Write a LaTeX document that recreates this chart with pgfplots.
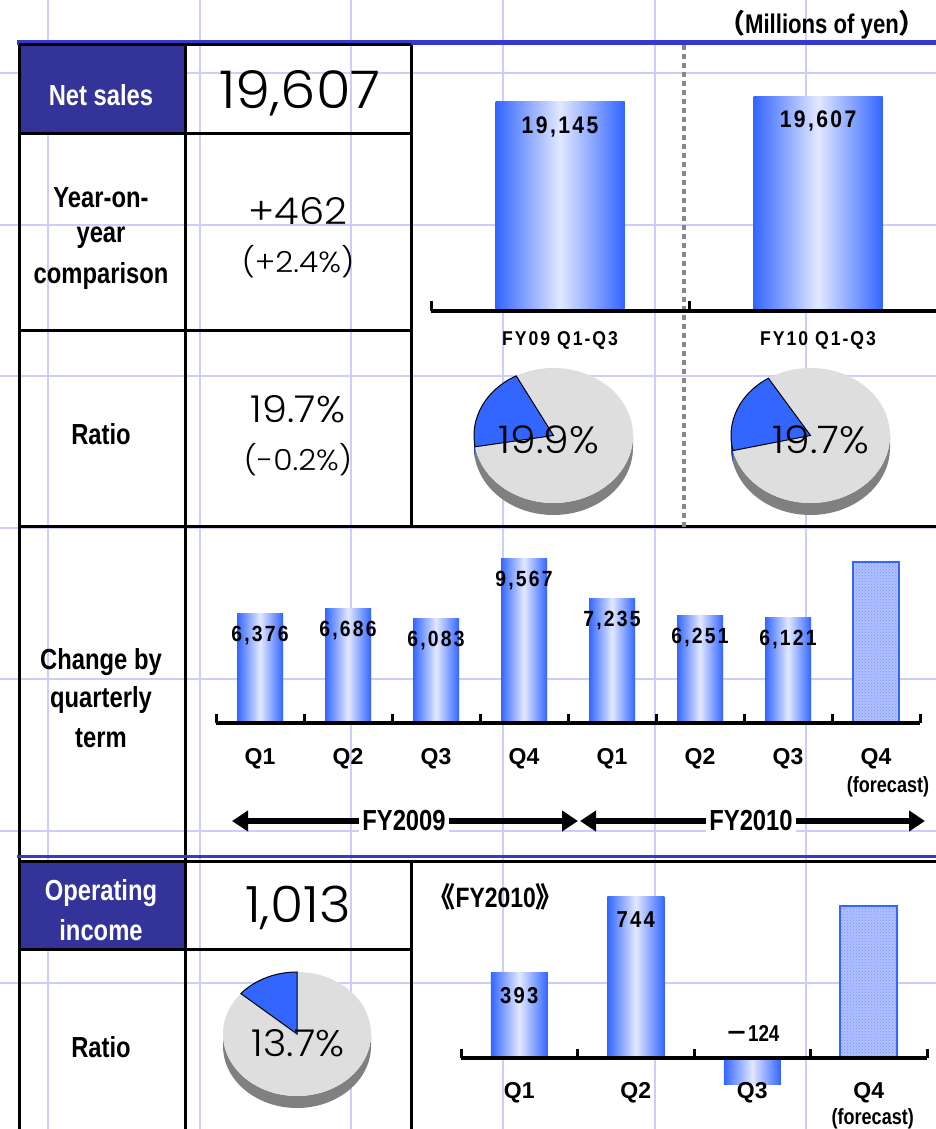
\documentclass[border=0pt]{standalone}
\usepackage{pgfplots}
\pgfplotsset{compat=1.18}
\usetikzlibrary{arrows.meta,patterns}
\usepackage{fontspec}
\setmainfont{Liberation Sans}
\newfontfamily\lab{Liberation Sans}[FakeStretch=0.82]
\newfontfamily\num{Liberation Sans}[FakeStretch=0.88,LetterSpace=10]
\newfontfamily\thin{Poppins Light}[FakeStretch=1.08]
\newfontfamily\cjk{Noto Sans CJK JP}

\definecolor{gridc}{HTML}{CCCCFF}
\definecolor{navy}{HTML}{333399}
\definecolor{topline}{HTML}{3838CC}
\definecolor{barblue}{HTML}{3366FF}
\definecolor{barlight}{HTML}{E2E8FF}
\definecolor{pieblue}{HTML}{3366FF}
\definecolor{sideblue}{HTML}{2244AA}
\definecolor{piegray}{HTML}{DEDEDE}
\definecolor{pieside}{HTML}{808080}
\definecolor{fcfill}{HTML}{AFC0FF}
\definecolor{fcdots}{HTML}{7C95FF}
\definecolor{dashc}{HTML}{888888}

\pgfplotsset{
  blank/.style={scale only axis, hide axis, clip=false},
  shbar/.style={ybar, bar shift=0pt, draw=none,
    left color=barblue, right color=barblue, middle color=barlight},
  fcbar/.style={ybar, bar shift=0pt, draw=barblue, line width=2pt, fill=fcfill,
    postaction={pattern=crosshatch dots, pattern color=fcdots}},
  vlab/.style 2 args={nodes near coords={\pgfmathprintnumber[fixed,precision=0,1000 sep={,},assume math mode=true]{\pgfplotspointmeta}},
    every node near coord/.append style={anchor=center, yshift=#1,
      font=\num\bfseries\fontsize{#2}{#2}\selectfont, text=black}},
}

% 3-D pie: centre x, centre y, x radius, y radius, depth, start angle, percent
\newcommand\pie[7]{%
  \fill[pieside] (#1-#3,#2) -- ++(0,-#5)
    arc[start angle=180,end angle=360,x radius=#3pt,y radius=#4pt] -- ++(0,#5)
    arc[start angle=0,end angle=-180,x radius=#3pt,y radius=#4pt] -- cycle;
  \fill[piegray] (#1,#2) ellipse[x radius=#3pt,y radius=#4pt];
  \pgfmathsetmacro\pend{#6+#7*3.6}%
  \ifdim\pend pt>180pt
    \fill[sideblue] (#1-#3,#2)
      arc[start angle=180,end angle=\pend,x radius=#3pt,y radius=#4pt] -- ++(0,-#5)
      arc[start angle=\pend,end angle=180,x radius=#3pt,y radius=#4pt] -- cycle;
  \fi
  \filldraw[fill=pieblue,draw=black,line width=1pt] (#1,#2) -- ++(#6:#3pt and #4pt)
    arc[start angle=#6,end angle=\pend,x radius=#3pt,y radius=#4pt] -- cycle;
}

\begin{document}
\begin{tikzpicture}[x=1pt,y=1pt]
\fill[white] (0,0) rectangle (936,1129);

% graph-paper background
\foreach \gx in {48,200,351,503,655,806} \draw[gridc,line width=2pt] (\gx,0) -- (\gx,1129);
\foreach \gy in {73,225,376,528,679,831,983} \draw[gridc,line width=2pt] (0,1129-\gy) -- (936,1129-\gy);

% header cells
\fill[navy] (19,1084) rectangle (185,995);
\fill[navy] (19,267) rectangle (185,180);

% table rules
\draw[topline,line width=5pt] (17,1086) -- (936,1086);
\draw[line width=3pt] (19,1084) -- (411,1084);
\draw[line width=3pt] (19,1084) -- (19,0);
\draw[line width=3pt] (185,1084) -- (185,0);
\draw[line width=3pt] (411,1084) -- (411,602);
\draw[line width=3pt] (411,269) -- (411,0);
\draw[line width=3pt] (19,995) -- (411,995);
\draw[line width=3pt] (19,798) -- (411,798);
\draw[line width=3pt] (19,602) -- (936,602);
\draw[topline,line width=3pt] (17,272) -- (936,272);
\draw[line width=3pt] (19,267) -- (936,267);
\draw[line width=3pt] (19,179) -- (411,179);
\draw[dashc,line width=4pt,dash pattern=on 5pt off 4pt] (684,1084) -- (684,602);

% unit note
\node[font=\lab\bfseries\fontsize{27}{27}\selectfont] at (822,1104) {\cjk（\lab Millions of yen\cjk）};

% left column labels
\begin{scope}[every node/.style={font=\lab\bfseries\fontsize{29}{29}\selectfont}]
\node[white] at (101,1034) {Net sales};
\node at (101,931) {Year-on-};
\node at (101,891) {year};
\node at (101,853) {comparison};
\node at (101,695) {Ratio};
\node at (101,467) {Change by};
\node at (101,429) {quarterly};
\node at (101,391) {term};
\node[white] at (101,236) {Operating};
\node[white] at (101,199) {income};
\node at (101,82) {Ratio};
\end{scope}

% figures column
\node[font=\thin\fontsize{52}{52}\selectfont] at (300,1036) {19,607};
\node[font=\thin\fontsize{37}{37}\selectfont] at (298,918) {+462};
\node[font=\thin\fontsize{29}{29}\selectfont] at (298,867) {(+2.4\%)};
\node[font=\thin\fontsize{37}{37}\selectfont] at (298,720) {19.7\%};
\node[font=\thin\fontsize{29}{29}\selectfont] at (298,669) {(-0.2\%)};
\node[font=\thin\fontsize{50}{50}\selectfont] at (298,221) {1,013};

% net sales, first three quarters
\begin{axis}[blank, at={(431pt,818pt)}, anchor=south west, width=505pt, height=250pt,
  xmin=-0.5, xmax=1.457, ymin=0, ymax=22850]
\addplot[shbar, bar width=129pt, vlab={-25pt}{24}] coordinates {(0,19145)};
\addplot[shbar, bar width=129pt, vlab={-25pt}{24}] coordinates {(1,19607)};
\draw[line width=4pt] (axis cs:-0.5,0) -- (axis cs:1.457,0);
\draw[line width=3pt] (axis cs:-0.5,0) -- ++(0pt,10pt);
\draw[line width=3pt] (axis cs:0.5,0) -- ++(0pt,10pt);
\node[font=\num\bfseries\fontsize{20}{20}\selectfont] at (axis cs:0,0) [yshift=-29pt] {FY09 Q1-Q3};
\node[font=\num\bfseries\fontsize{20}{20}\selectfont] at (axis cs:1,0) [yshift=-29pt] {FY10 Q1-Q3};
\end{axis}

% ratio pies
\pie{553.5}{693.5}{79.5}{67.5}{12}{118}{19.9}
\node[font=\thin\fontsize{38}{38}\selectfont] at (549,689) {19.9\%};
\pie{810.5}{693.5}{79.5}{67.5}{12}{122}{19.7}
\node[font=\thin\fontsize{38}{38}\selectfont] at (821,689) {19.7\%};

% quarterly net sales
\begin{axis}[blank, at={(216pt,406pt)}, anchor=south west, width=704pt, height=200pt,
  xmin=-0.5, xmax=7.5, ymin=0, ymax=11640]
\addplot[shbar, bar width=46pt, vlab={-22pt}{22}] coordinates {(0,6376)};
\addplot[shbar, bar width=46pt, vlab={-22pt}{22}] coordinates {(1,6686)};
\addplot[shbar, bar width=46pt, vlab={-22pt}{22}] coordinates {(2,6083)};
\addplot[shbar, bar width=46pt, vlab={-22pt}{22}] coordinates {(3,9567)};
\addplot[shbar, bar width=46pt, vlab={-22pt}{22}] coordinates {(4,7235)};
\addplot[shbar, bar width=46pt, vlab={-22pt}{22}] coordinates {(5,6251)};
\addplot[shbar, bar width=46pt, vlab={-22pt}{22}] coordinates {(6,6121)};
\addplot[fcbar, bar width=46pt] coordinates {(7,9370)};
\draw[line width=4pt] (axis cs:-0.5,0) -- (axis cs:7.5,0);
\pgfplotsinvokeforeach{-0.5,0.5,...,7.5}{\draw[line width=3pt] (axis cs:#1,0) -- ++(0pt,9pt);}
\begin{scope}[every node/.style={font=\bfseries\fontsize{23}{23}\selectfont, yshift=-36pt}]
\node at (axis cs:0,0) {Q1};
\node at (axis cs:1,0) {Q2};
\node at (axis cs:2,0) {Q3};
\node at (axis cs:3,0) {Q4};
\node at (axis cs:4,0) {Q1};
\node at (axis cs:5,0) {Q2};
\node at (axis cs:6,0) {Q3};
\node at (axis cs:7,0) {Q4};
\end{scope}
\node[font=\lab\bfseries\fontsize{22}{22}\selectfont] at (axis cs:7,0) [yshift=-64pt, xshift=12pt] {(forecast)};
\end{axis}

% fiscal-year spans
\draw[line width=6pt,{Triangle[length=16pt,width=20pt]}-{Triangle[length=16pt,width=20pt]}] (232,308) -- (578,308);
\draw[line width=6pt,{Triangle[length=16pt,width=20pt]}-{Triangle[length=16pt,width=20pt]}] (580,308) -- (925,308);
\node[fill=white,inner sep=3pt,font=\lab\bfseries\fontsize{29}{29}\selectfont] at (404,308) {FY2009};
\node[fill=white,inner sep=3pt,font=\lab\bfseries\fontsize{29}{29}\selectfont] at (751,308) {FY2010};

% operating income ratio pie
\pie{297}{95}{74}{62}{12}{90}{13.7}
\node[font=\thin\fontsize{37}{37}\selectfont] at (298,86) {13.7\%};

% quarterly operating income
\node[anchor=west,font=\lab\bfseries\fontsize{28}{28}\selectfont] at (424,232) {\cjk《\lab FY2010\cjk》};
\begin{axis}[blank, at={(461pt,31pt)}, anchor=south west, width=466pt, height=218pt,
  xmin=-0.5, xmax=3.5, ymin=-184.8, ymax=822.4]
\addplot[shbar, bar width=57pt, vlab={-23pt}{23}] coordinates {(0,393)};
\addplot[shbar, bar width=57pt, vlab={-23pt}{23}] coordinates {(1,744)};
\addplot[shbar, bar width=57pt, point meta=explicit,
  nodes near coords={{\cjk－}\pgfmathprintnumber[fixed,precision=0,assume math mode=true]{\pgfplotspointmeta}},
  every node near coord/.append style={anchor=center, yshift=51pt,
    font=\lab\bfseries\fontsize{23}{23}\selectfont, text=black}]
  coordinates {(2,-124) [124]};
\addplot[fcbar, bar width=57pt] coordinates {(3,700)};
\draw[line width=4pt] (axis cs:-0.5,0) -- (axis cs:3.5,0);
\pgfplotsinvokeforeach{-0.5,0.5,...,3.5}{\draw[line width=3pt] (axis cs:#1,0) -- ++(0pt,9pt);}
\begin{scope}[every node/.style={font=\bfseries\fontsize{23}{23}\selectfont, yshift=-35pt}]
\node at (axis cs:0,0) {Q1};
\node at (axis cs:1,0) {Q2};
\node at (axis cs:2,0) {Q3};
\node at (axis cs:3,0) {Q4};
\end{scope}
\node[font=\lab\bfseries\fontsize{22}{22}\selectfont] at (axis cs:3,0) [yshift=-61pt, xshift=4pt] {(forecast)};
\end{axis}

\pgfresetboundingbox
\path[use as bounding box] (0,0) rectangle (936,1129);
\end{tikzpicture}
\end{document}
